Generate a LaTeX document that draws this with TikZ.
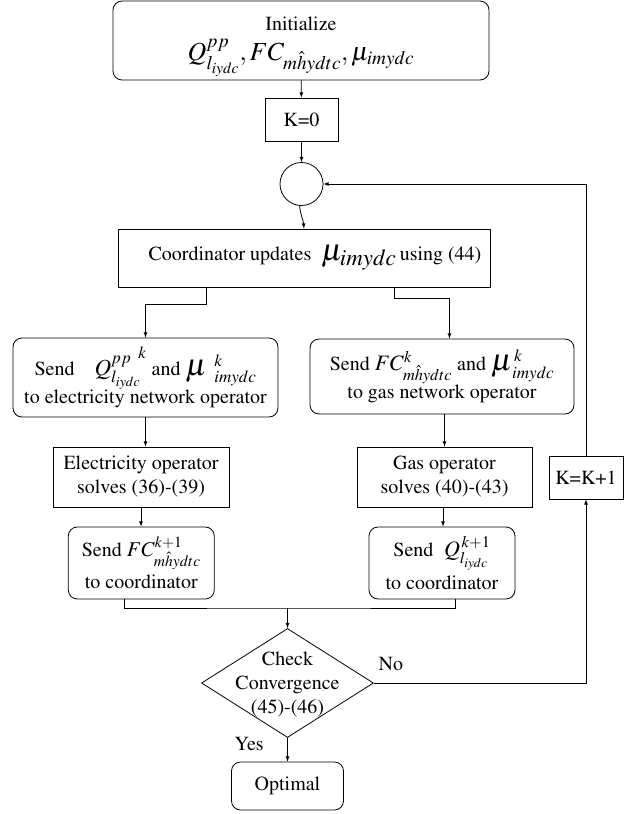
\documentclass[tikz,border=0pt]{standalone}
\usepackage[T1]{fontenc}
\usepackage{mathptmx}
\usepackage{amsmath}
\usetikzlibrary{shapes.geometric}

\newcommand{\muBig}{\mbox{\fontsize{31}{31}\selectfont$\mu$}}
\newcommand{\mathSz}[2]{{\fontsize{#1}{#1}\selectfont #2}}

\begin{document}
\begin{tikzpicture}[x=1pt, y=-1pt, line width=0.8pt, >=latex,
    font=\fontsize{20}{24}\selectfont,
    rbox/.style = {draw, rounded corners=9pt, align=center, inner sep=0pt},
    sbox/.style = {draw, align=center, inner sep=0pt},
    dec/.style = {draw, diamond, inner sep=0pt}]
  \useasboundingbox (0,0) rectangle (639,814);

  \node[rbox, minimum width=376pt, minimum height=79pt] (init) at (301,40.5)
    {\rule{0pt}{26pt}Initialize\\[6pt] \mathSz{26}{$Q^{pp}_{l_{iydc}},FC_{m\hat{h}ydtc},\mu_{imydc}$}};
  \node[sbox, minimum width=73pt, minimum height=43pt] (k0) at (301.5,119.5) {K=0};
  \node[draw, circle, minimum size=43pt, inner sep=0pt] (circ) at (301.5,184) {};
  \node[sbox, minimum width=372pt, minimum height=58pt] (coord) at (304,258)
    {\hspace*{22pt}Coordinator updates \ \mathSz{31}{$\mu_{imydc}$}\,using (44)};

  \node[rbox, minimum width=265pt, minimum height=79pt] (sendE) at (145.5,377.5)
    {Send\quad \mathSz{23}{$Q^{pp\;\;\raisebox{5pt}{$\scriptstyle k$}}_{l_{iydc}}$} and \mathSz{23}{$\muBig^{\;\;k}_{\;\;imydc}$}\\ to electricity network operator};
  \node[rbox, minimum width=264pt, minimum height=75pt] (sendG) at (442,376.5)
    {Send \mathSz{22}{$FC^{k}_{m\hat{h}ydtc}$} and \mathSz{23}{$\muBig^{\,k}_{imydc}$}\\ to gas network operator};

  \node[sbox, minimum width=176pt, minimum height=60pt] (solE) at (141,477)
    {Electricity operator\\ solves (36)-(39)};
  \node[sbox, minimum width=175pt, minimum height=60pt] (solG) at (444.5,477)
    {Gas operator\\ solves (40)-(43)};
  \node[sbox, minimum width=74pt, minimum height=43pt] (kk) at (586,477.5) {K=K+1};

  \node[rbox, minimum width=146pt, minimum height=72pt] (retE) at (141.3,563)
    {Send \mathSz{21}{$FC^{k+1}_{m\hat{h}ydtc}$}\\[5pt] to coordinator};
  \node[rbox, minimum width=146pt, minimum height=72pt] (retG) at (442,563)
    {Send\; \mathSz{22}{$Q^{\,k+1}_{l_{iydc}}$}\\[5pt] to coordinator};

  \node[dec, minimum width=172pt, minimum height=109pt] (chk) at (287.5,683)
    {\makebox[0pt]{\raisebox{-7pt}[0pt][0pt]{\begin{tabular}{@{}c@{}}Check\\ Convergence\\ (45)-(46)\end{tabular}}}};
  \node[rbox, minimum width=112pt, minimum height=48pt] (opt) at (287.5,786) {Optimal};

  \coordinate (mrg) at (chk.north |- 0,608);

  % main flow
  \path[->,draw]
    (init) edge (k0)
    (k0) edge (circ);
  \draw[->] (circ.-95) to[out=-85,in=95] (coord.north);
  \draw[->] ([xshift=-98pt]coord.south) -- ++(0,17) -| (sendE.north);
  \draw[->] ([xshift=90pt]coord.south) -- ++(0,11) -| ([xshift=7.5pt]sendG.north);
  \draw[->] (sendE.south) -- (sendE.south |- solE.north);
  \draw[->] (solG.north |- sendG.south) -- (solG.north);
  \draw[->] (solE.south) -- (solE.south |- retE.north);
  \draw[->] ([xshift=-1.5pt]solG.south) -- ([xshift=-1.5pt]solG.south |- retG.north);
  \draw ([xshift=-16.8pt]retE.south) |- (mrg) -| ([xshift=13pt]retG.south);
  \draw[->] (mrg) -- (chk.north);
  \draw[->] (chk.south) -- node[pos=0.24, left=20pt] {Yes} (opt.north);

  % loop back
  \draw[->] (chk.east) -| node[pos=0, anchor=south west, xshift=1pt, yshift=9pt] {No} (kk.south);
  \draw[->] (kk.north) |- (circ.east);
\end{tikzpicture}
\end{document}
